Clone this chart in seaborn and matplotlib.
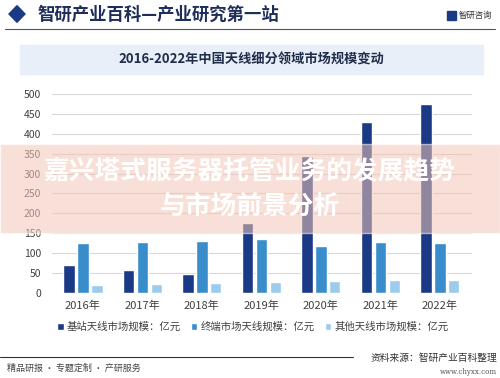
import numpy as np
import pandas as pd
import seaborn as sns
import matplotlib
matplotlib.use("Agg")
import matplotlib.pyplot as plt
from matplotlib.patches import Rectangle, Polygon

# ---- data ----
years = ["2016年", "2017年", "2018年", "2019年", "2020年", "2021年", "2022年"]
series_names = ["基站天线市场规模：亿元", "终端市场天线规模：亿元", "其他天线市场规模：亿元"]
base_station = [69, 58, 47, 176, 343, 431, 474]
terminal = [125, 128, 130, 136, 118, 128, 125]
other = [19, 21, 25, 27, 29, 31, 31]
y_ticks = [0, 50, 100, 150, 200, 250, 300, 350, 400, 450, 500]

header_text = "智研产业百科—产业研究第一站"
title_text = "2016-2022年中国天线细分领域市场规模变动"
overlay_line1 = "嘉兴塔式服务器托管业务的发展趋势"
overlay_line2 = "与市场前景分析"

df = pd.DataFrame({
    "year": years * 3,
    "value": base_station + terminal + other,
    "series": [series_names[0]] * 7 + [series_names[1]] * 7 + [series_names[2]] * 7,
})

colors = ["#1B3A86", "#3A8DCB", "#9CCBEE"]

sns.set_theme(style="white")
plt.rcParams["font.family"] = ["Noto Sans CJK SC", "DejaVu Sans"]

fig = plt.figure(figsize=(5, 3.78), dpi=100)
fig.patch.set_facecolor("white")

ax = fig.add_axes([0.104, 0.226, 0.84, 0.525])
sns.barplot(data=df, x="year", y="value", hue="series", hue_order=series_names,
            order=years, palette=colors, width=0.7, gap=0.18, saturation=1,
            ax=ax, legend=True, zorder=3)

ax.set_ylim(0, 500)
ax.set_xlim(-0.52, 6.54)
ax.set_yticks(y_ticks)
ax.set_yticklabels([str(v) for v in y_ticks], fontsize=7.5, color="#404040")
ax.tick_params(axis="x", labelsize=8, colors="#404040", length=0, pad=6)
ax.tick_params(axis="y", length=0, pad=8)
ax.set_xlabel("")
ax.set_ylabel("")
ax.grid(axis="y", color="#D9D9D9", linewidth=0.8, zorder=0)
ax.set_axisbelow(True)
for s in ax.spines.values():
    s.set_visible(False)

handles, labels = ax.get_legend_handles_labels()
ax.legend(handles, labels, loc="center", bbox_to_anchor=(0.506, 0.135),
          bbox_transform=fig.transFigure, ncol=3, frameon=False, fontsize=7.5,
          handlelength=0.6, handleheight=0.6, handletextpad=0.3, columnspacing=1.0,
          labelcolor="#404040")

# ---- header ----
fig.patches.append(Polygon([[0.018, 0.963], [0.034, 0.985], [0.050, 0.963], [0.034, 0.941]],
                           closed=True, transform=fig.transFigure, color="#1B3A86"))
fig.text(0.075, 0.962, header_text, fontsize=12.5, fontweight="bold", color="#1F2D5A",
         va="center", ha="left")
fig.lines.append(plt.Line2D([0.01, 0.99], [0.923, 0.923], transform=fig.transFigure,
                            color="#555555", linewidth=0.8))
fig.patches.append(Rectangle((0.893, 0.948), 0.018, 0.024, transform=fig.transFigure,
                             color="#1B3A86"))
fig.text(0.918, 0.960, "智研咨询", fontsize=6, color="#333333", va="center", ha="left")

# ---- title box ----
fig.patches.append(Rectangle((0.04, 0.805), 0.926, 0.075, transform=fig.transFigure,
                             color="#E9EFF8", zorder=0))
fig.text(0.502, 0.843, title_text, fontsize=9.5, fontweight="bold", color="#1F2D4A",
         va="center", ha="center")

# ---- footer ----
fig.lines.append(plt.Line2D([0.0, 0.705], [0.056, 0.056], transform=fig.transFigure,
                            color="#333333", linewidth=0.8))
fig.text(0.014, 0.026, "精品研报 · 专题定制 · 产研服务", fontsize=6.5, color="#444444",
         va="center", ha="left")
fig.text(0.994, 0.052, "资料来源：智研产业百科整理", fontsize=7, color="#333333",
         va="center", ha="right")
fig.text(0.994, 0.015, "www.chyxx.com", fontsize=5, color="#555555",
         va="center", ha="right", family="DejaVu Serif")

# ---- overlay band ----
fig.patches.append(Rectangle((0.0, 0.384), 1.0, 0.236, transform=fig.transFigure,
                             facecolor="#F4C6B6", alpha=0.55, zorder=10))
fig.text(0.498, 0.548, overlay_line1, fontsize=18.5, fontweight="heavy", color="white",
         va="center", ha="center", zorder=11)
fig.text(0.5, 0.455, overlay_line2, fontsize=18.5, fontweight="heavy", color="white",
         va="center", ha="center", zorder=11)

fig.savefig("out.png", dpi=100)
